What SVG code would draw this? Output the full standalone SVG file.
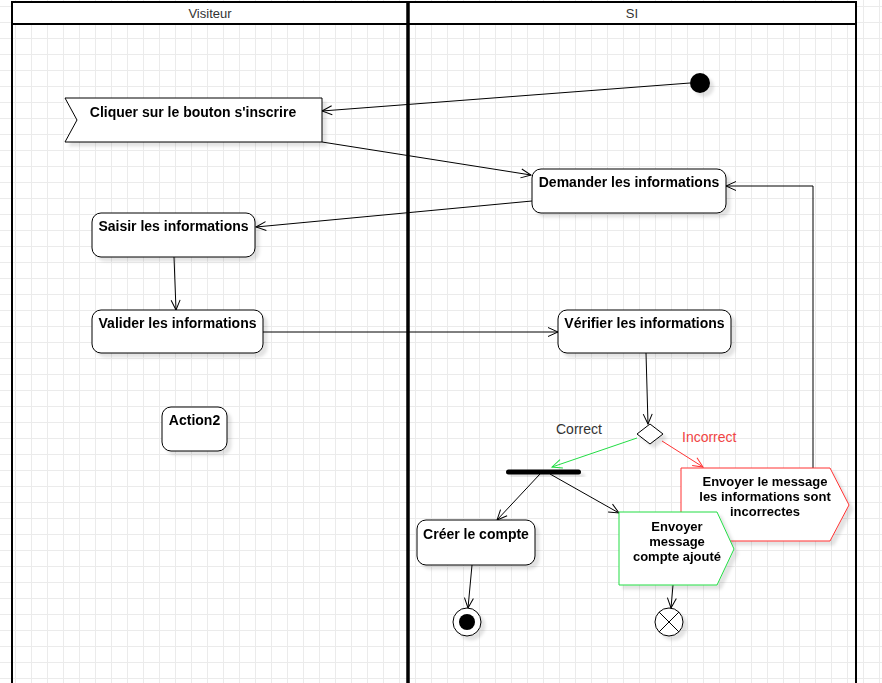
<svg xmlns="http://www.w3.org/2000/svg" width="882" height="683" viewBox="0 0 882 683">
  <defs>
    <pattern id="grid" width="16" height="16" x="15" y="6" patternUnits="userSpaceOnUse">
      <path d="M0 0.5 H16 M0.5 0 V16" fill="none" stroke="#ebebeb" stroke-width="1"/>
    </pattern>
    <filter id="shadow" x="-20%" y="-20%" width="150%" height="160%">
      <feDropShadow dx="4" dy="4" stdDeviation="1.6" flood-color="#000" flood-opacity="0.11"/>
    </filter>
    <marker id="arrow" markerUnits="userSpaceOnUse" markerWidth="14" markerHeight="12" refX="11" refY="6" orient="auto">
      <path d="M1 1.5 L11 6 L1 10.5" fill="none" stroke="#000" stroke-width="1"/>
    </marker>
    <marker id="arrowGreen" markerUnits="userSpaceOnUse" markerWidth="14" markerHeight="12" refX="11" refY="6" orient="auto">
      <path d="M1 1.5 L11 6 L1 10.5" fill="none" stroke="#22dd44" stroke-width="1"/>
    </marker>
    <marker id="arrowRed" markerUnits="userSpaceOnUse" markerWidth="14" markerHeight="12" refX="11" refY="6" orient="auto">
      <path d="M1 1.5 L11 6 L1 10.5" fill="none" stroke="#ff3333" stroke-width="1"/>
    </marker>
    <style>
      .lbl { font-family: "Liberation Sans", Arial, Helvetica, sans-serif; font-size: 14px; font-weight: bold; fill: #000; text-anchor: middle; }
      .multi { font-size: 13px; }
      .lane { font-family: "Liberation Sans", Arial, Helvetica, sans-serif; font-size: 13px; fill: #333; text-anchor: middle; }
      .guard { font-family: "Liberation Sans", Arial, Helvetica, sans-serif; font-size: 14px; }
      .action { fill: #fff; stroke: #000; stroke-width: 1; }
      .edge { fill: none; stroke: #000; stroke-width: 1; marker-end: url(#arrow); }
    </style>
  </defs>

  <!-- canvas with grid -->
  <rect x="0" y="0" width="882" height="683" fill="#fff"/>
  <rect x="0" y="0" width="882" height="683" fill="url(#grid)"/>

  <!-- swimlane pool -->
  <g id="pool">
    <rect x="12" y="2" width="844" height="22" fill="#fff"/>
    <path d="M12 700 V2 H856 V700" fill="none" stroke="#000" stroke-width="2"/>
    <line x1="12" y1="24" x2="856" y2="24" stroke="#000" stroke-width="2"/>
    <line x1="408" y1="2" x2="408" y2="700" stroke="#000" stroke-width="3.5"/>
    <text class="lane" x="210" y="18">Visiteur</text>
    <text class="lane" x="632" y="18">SI</text>
  </g>

  <!-- connectors -->
  <g id="connectors">
    <line class="edge" x1="690" y1="83" x2="322" y2="111"/>
    <line class="edge" x1="322" y1="142" x2="531" y2="175"/>
    <line class="edge" x1="532" y1="201" x2="256" y2="227"/>
    <line class="edge" x1="174" y1="257" x2="176" y2="310"/>
    <line class="edge" x1="263" y1="332" x2="558" y2="332"/>
    <line class="edge" x1="646" y1="353" x2="648" y2="424"/>
    <line x1="637" y1="438" x2="552" y2="467" fill="none" stroke="#22dd44" stroke-width="1" marker-end="url(#arrowGreen)"/>
    <text class="guard" x="556" y="434" fill="#333">Correct</text>
    <line x1="662" y1="441" x2="703" y2="467" fill="none" stroke="#ff3333" stroke-width="1" marker-end="url(#arrowRed)"/>
    <text class="guard" x="682" y="442" fill="#f04444">Incorrect</text>
    <line class="edge" x1="540" y1="474" x2="497" y2="520"/>
    <line class="edge" x1="550" y1="474" x2="619" y2="513"/>
    <line class="edge" x1="472" y1="565" x2="468" y2="608"/>
    <line class="edge" x1="673" y1="585" x2="671" y2="608"/>
    <polyline class="edge" points="813,468 813,186 726,186"/>
  </g>

  <!-- nodes -->
  <g id="initial" filter="url(#shadow)">
    <circle cx="700" cy="83" r="10" fill="#000"/>
  </g>

  <g id="cliquer" filter="url(#shadow)">
    <polygon class="action" points="65,98 322,98 322,142 65,142 77,120"/>
    <text class="lbl" x="193" y="117">Cliquer sur le bouton s'inscrire</text>
  </g>

  <g id="demander" filter="url(#shadow)">
    <rect class="action" x="532" y="169" width="194" height="44" rx="9"/>
    <text class="lbl" x="629" y="187">Demander les informations</text>
  </g>

  <g id="saisir" filter="url(#shadow)">
    <rect class="action" x="92" y="213" width="163" height="44" rx="9"/>
    <text class="lbl" x="173.5" y="231">Saisir les informations</text>
  </g>

  <g id="valider" filter="url(#shadow)">
    <rect class="action" x="92" y="310" width="171" height="43" rx="9"/>
    <text class="lbl" x="177.5" y="328">Valider les informations</text>
  </g>

  <g id="verifier" filter="url(#shadow)">
    <rect class="action" x="558" y="310" width="173" height="43" rx="9"/>
    <text class="lbl" x="644.5" y="328">Vérifier les informations</text>
  </g>

  <g id="action2" filter="url(#shadow)">
    <rect class="action" x="162" y="407" width="65" height="44" rx="9"/>
    <text class="lbl" x="194.5" y="425">Action2</text>
  </g>

  <g id="decision" filter="url(#shadow)">
    <polygon class="action" points="650,424 663,434 650,444 637,434"/>
  </g>

  <g id="fork" filter="url(#shadow)">
    <rect x="506" y="469.5" width="75" height="5" rx="2.5" fill="#000"/>
  </g>

  <g id="incorrect" filter="url(#shadow)">
    <polygon points="681,468 830,468 849,505 830,541 681,541" fill="#fff" stroke="#ff3333" stroke-width="1"/>
    <text class="lbl multi" x="765" y="486">Envoyer le message</text>
    <text class="lbl multi" x="765" y="501">les informations sont</text>
    <text class="lbl multi" x="765" y="516">incorrectes</text>
  </g>

  <g id="creer" filter="url(#shadow)">
    <rect class="action" x="417" y="520" width="118" height="45" rx="9"/>
    <text class="lbl" x="476" y="539">Créer le compte</text>
  </g>

  <g id="ajoute" filter="url(#shadow)">
    <polygon points="619,512 717,512 734,549 717,585 619,585" fill="#fff" stroke="#22dd44" stroke-width="1"/>
    <text class="lbl multi" x="677" y="531">Envoyer</text>
    <text class="lbl multi" x="677" y="546">message</text>
    <text class="lbl multi" x="677" y="561">compte ajouté</text>
  </g>

  <g id="final" filter="url(#shadow)">
    <circle cx="467" cy="622" r="14" fill="#fff" stroke="#000" stroke-width="1"/>
    <circle cx="467" cy="622" r="8" fill="#000"/>
  </g>

  <g id="flowFinal" filter="url(#shadow)">
    <circle cx="669" cy="622" r="14" fill="#fff" stroke="#000" stroke-width="1"/>
    <path d="M659.1 612.1 L678.9 631.9 M678.9 612.1 L659.1 631.9" stroke="#000" stroke-width="1"/>
  </g>
</svg>
